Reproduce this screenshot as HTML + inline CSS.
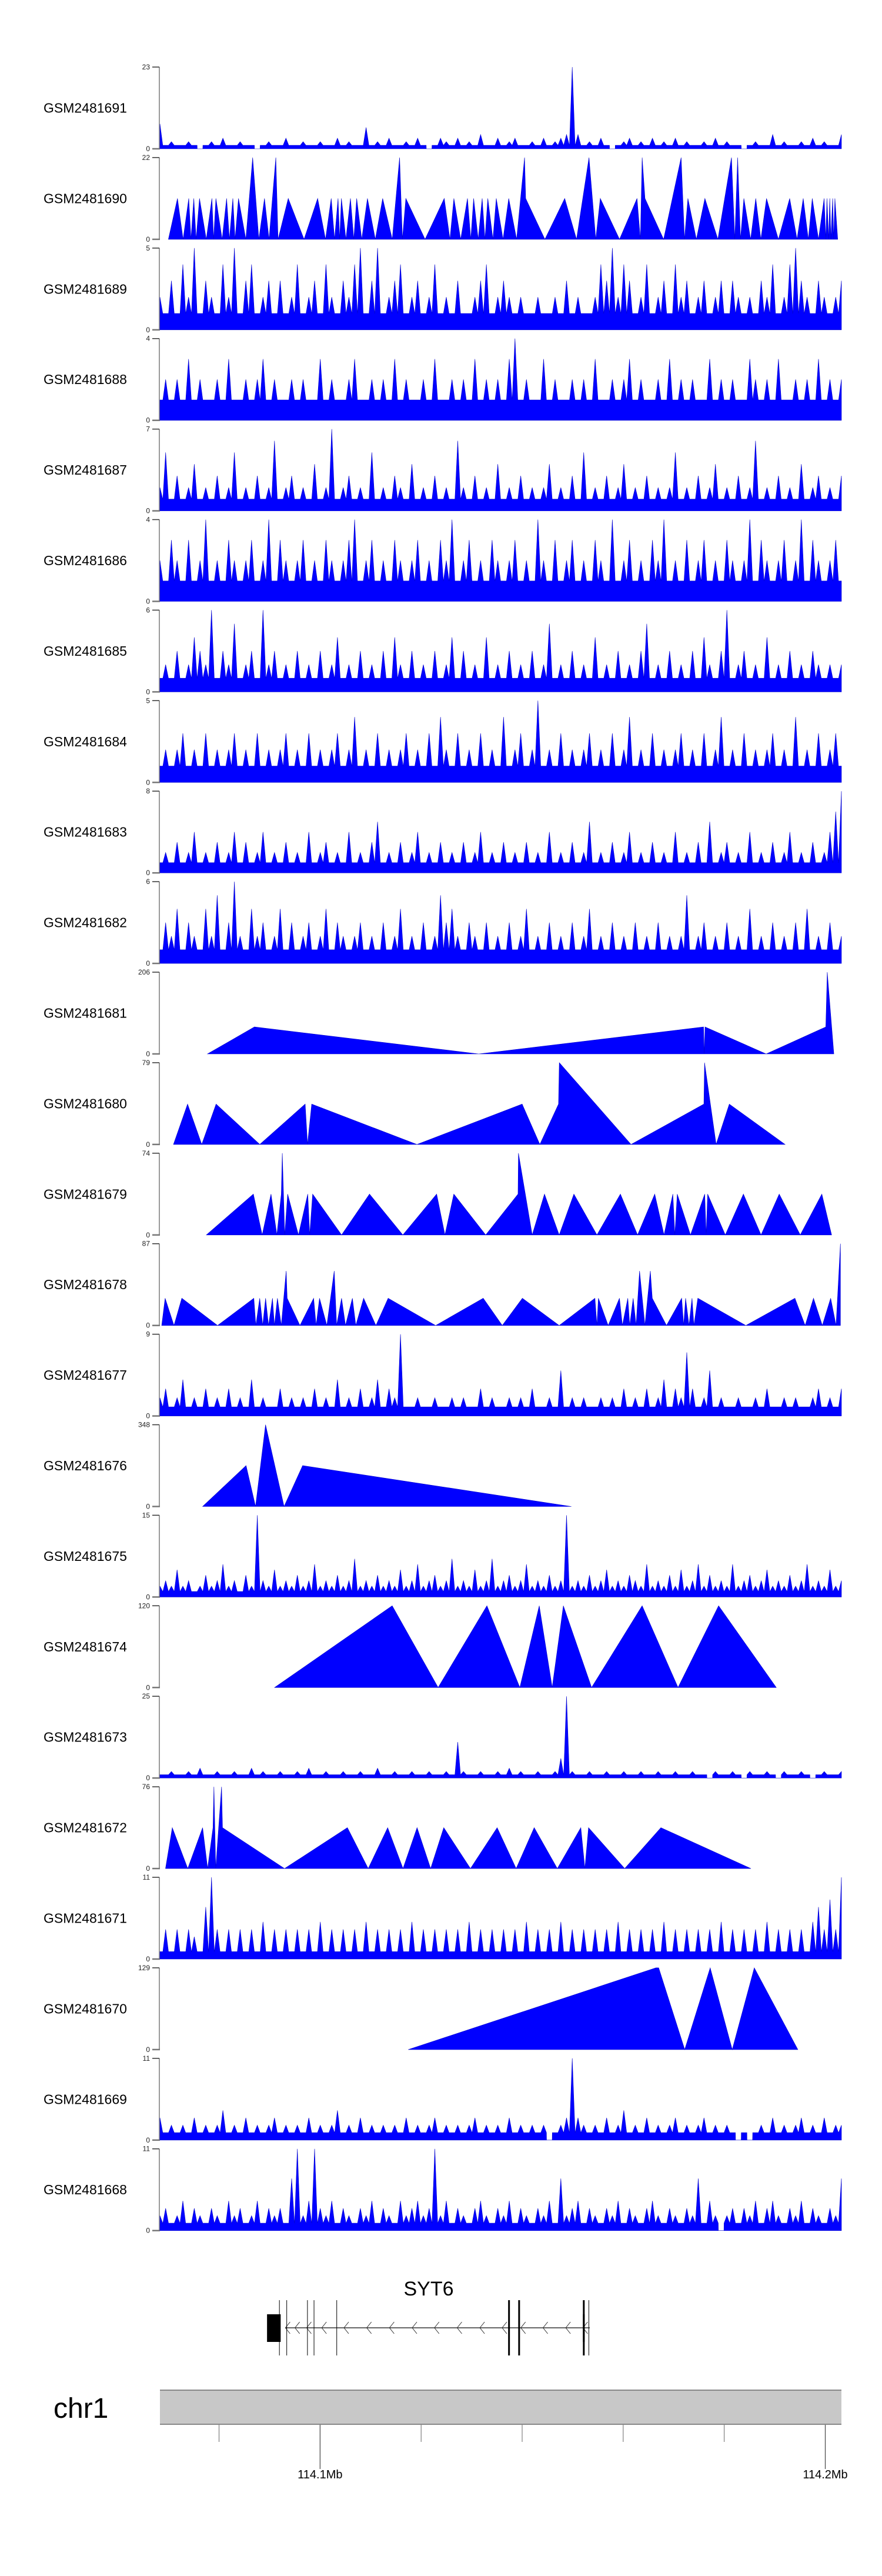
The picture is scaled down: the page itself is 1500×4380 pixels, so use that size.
<!DOCTYPE html>
<html><head><meta charset="utf-8">
<style>
html,body{margin:0;padding:0;background:#fff;}
svg{display:block;}
text{font-family:"Liberation Sans",sans-serif;}
</style></head>
<body>
<svg id="chart" width="1500" height="4380" viewBox="0 0 1500 4380" xmlns="http://www.w3.org/2000/svg">
<g id="tracks"></g>
<g id="gene">
  <text x="729" y="3903" font-size="34" text-anchor="middle" fill="#000">SYT6</text>
</g>
<g id="ideo">
  <text x="91" y="4111" font-size="48" fill="#000">chr1</text>
  <rect x="272" y="4064" width="1159" height="58" fill="#c8c8c8"/>
  <line x1="272" y1="4064" x2="1431" y2="4064" stroke="#888" stroke-width="2"/>
  <line x1="272" y1="4122" x2="1431" y2="4122" stroke="#888" stroke-width="2"/>
</g>
</svg>
<script>
// ---- genomic window (kb past 114.0 Mb) ----
const domainKb = [68.3, 203.2];
const trackNames = ["GSM2481691","GSM2481690","GSM2481689","GSM2481688","GSM2481687","GSM2481686","GSM2481685","GSM2481684","GSM2481683","GSM2481682","GSM2481681","GSM2481680","GSM2481679","GSM2481678","GSM2481677","GSM2481676","GSM2481675","GSM2481674","GSM2481673","GSM2481672","GSM2481671","GSM2481670","GSM2481669","GSM2481668"];
const trackMax = [23,22,5,4,7,4,6,5,8,6,206,79,74,87,9,348,15,120,25,76,11,129,11,11];

// dense (binned) tracks: evenly spaced bins across window
const v1691=[7,1,2,1,1,2,1,0,1,2,1,3,1,1,2,1,1,0,1,2,1,1,3,1,1,2,1,1,2,1,1,3,1,2,1,1,6,1,2,1,3,1,1,2,1,3,1,0,1,3,2,1,3,1,2,1,4,1,1,3,1,2,3,1,1,2,1,3,1,2,3,4,23,4,1,2,1,3,1,0,1,2,3,1,2,1,3,1,2,1,3,1,2,1,1,2,1,3,1,2,1,1,0,1,2,1,1,4,1,2,1,1,2,1,3,1,2,1,1,4];
const v1689=[2,1,3,1,4,2,5,1,3,2,1,4,2,5,1,3,4,1,2,3,1,3,1,2,4,1,2,3,1,4,2,1,3,2,4,5,1,3,5,1,2,3,4,1,2,3,1,2,4,1,2,1,3,1,1,2,3,4,1,2,3,2,1,2,1,1,2,1,1,2,1,3,1,2,1,1,2,4,3,5,2,4,3,1,2,4,1,2,3,1,4,2,3,1,2,3,1,2,3,1,3,2,1,2,1,3,2,4,1,2,4,5,3,2,1,3,2,1,2,3];
const v1688=[1,2,1,2,1,3,1,2,1,1,2,1,3,1,1,2,1,2,3,1,2,1,1,2,1,2,1,1,3,1,2,1,1,2,3,1,1,2,1,2,1,3,1,2,1,1,2,1,3,1,1,2,1,2,1,3,1,2,1,2,1,3,4,1,2,1,1,3,1,2,1,1,2,1,2,1,3,1,1,2,1,2,3,1,2,1,1,2,1,3,1,2,1,2,1,1,3,1,2,1,2,1,1,3,2,1,2,1,3,1,1,2,1,2,1,3,1,2,1,2];
const v1687=[2,5,1,3,1,2,4,1,2,1,3,1,2,5,1,2,1,3,1,2,6,1,2,3,1,2,1,4,1,2,7,1,2,3,1,2,1,5,1,2,1,3,2,1,4,1,2,1,3,1,2,1,6,2,1,3,1,2,1,4,1,2,1,3,1,2,1,2,4,1,2,1,3,1,5,1,2,1,3,1,2,4,1,2,1,3,1,2,1,2,5,1,2,1,3,1,2,4,1,2,1,3,1,2,6,1,2,1,3,1,2,1,4,1,2,3,1,2,1,3];
const v1686=[2,1,3,2,1,3,1,2,4,1,2,1,3,2,1,2,3,1,2,4,1,3,2,1,2,3,1,2,1,3,2,1,2,3,4,1,2,3,1,2,1,3,2,1,2,3,1,2,1,3,2,4,1,2,3,1,2,1,3,2,1,2,3,1,2,1,4,2,1,3,1,2,3,1,2,1,3,2,1,4,1,2,3,1,2,1,3,2,4,1,2,1,3,1,2,3,1,2,1,3,2,1,2,4,1,3,2,1,2,3,1,2,4,1,3,2,1,2,3,1];
const v1685=[1,2,1,3,1,2,4,3,2,6,1,3,2,5,1,2,3,1,6,2,3,1,2,1,3,1,2,1,3,1,2,4,1,2,1,3,1,2,1,3,1,4,2,1,3,1,2,1,3,1,2,4,1,3,1,2,1,4,1,2,1,3,1,2,1,3,1,2,5,1,2,1,3,1,2,1,4,1,2,1,3,1,2,1,3,5,1,2,1,3,1,2,1,3,1,4,2,1,3,6,1,2,3,1,2,1,4,1,2,1,3,1,2,1,3,2,1,2,1,2];
const v1684=[1,2,1,2,3,1,2,1,3,1,2,1,2,3,1,2,1,3,1,2,1,2,3,1,2,1,3,1,2,1,2,3,1,2,4,1,2,1,3,1,2,1,2,3,1,2,1,3,1,4,2,1,3,1,2,1,3,1,2,1,4,1,2,3,1,2,5,1,2,1,3,1,2,1,2,3,1,2,1,3,1,2,4,1,2,1,3,1,2,1,2,3,1,2,1,3,1,2,4,1,2,1,3,1,2,1,2,3,1,2,1,4,1,2,1,3,1,2,3,1];
const v1683=[1,2,1,3,1,2,4,1,2,1,3,1,2,4,1,3,1,2,4,1,2,1,3,1,2,1,4,1,2,3,1,2,1,4,1,2,1,3,5,1,2,1,3,1,2,4,1,2,1,3,1,2,1,3,1,2,4,1,2,1,3,1,2,1,3,1,2,1,4,1,2,1,3,1,2,5,1,2,1,3,1,2,4,1,2,1,3,1,2,1,4,1,2,1,3,1,5,1,2,3,1,2,1,4,1,2,1,3,1,2,4,1,2,1,3,1,2,4,6,8];
const v1682=[1,3,2,4,1,3,2,1,4,2,5,1,3,6,2,1,4,2,3,1,2,4,1,3,1,2,3,1,2,4,1,3,2,1,2,3,1,2,1,3,1,2,4,1,2,1,3,1,2,5,3,4,2,1,3,2,1,3,1,2,1,3,1,2,4,1,2,1,3,1,2,1,3,1,2,4,1,2,1,3,1,2,1,3,1,2,1,3,1,2,1,2,5,1,2,3,1,2,1,3,1,2,1,4,1,2,1,3,1,2,1,3,1,4,1,2,1,3,1,2];
const v1677=[2,3,1,2,4,1,2,1,3,1,2,1,3,1,2,1,4,1,2,1,1,3,1,2,1,2,1,3,1,2,1,4,1,2,1,3,1,2,4,1,3,2,9,1,1,2,1,1,2,1,1,2,1,2,1,1,3,1,2,1,1,2,1,2,1,3,1,1,2,1,5,1,2,1,2,1,1,2,1,2,1,3,1,2,1,3,1,2,4,1,3,2,7,3,1,2,5,1,2,1,1,2,1,1,2,1,3,1,1,2,1,2,1,1,2,3,1,2,1,3];
const v1675=[2,3,2,5,2,3,1,2,4,2,3,6,2,3,1,4,2,15,3,2,5,2,3,2,4,2,3,6,2,3,2,4,2,3,7,2,3,2,4,2,3,2,5,2,3,6,2,3,4,2,3,7,2,3,2,5,2,3,7,2,3,4,2,3,6,2,3,2,4,2,3,15,2,3,2,4,2,3,5,2,3,2,4,3,2,6,2,3,2,4,2,5,2,3,6,2,4,2,3,2,6,2,3,4,2,3,5,2,3,2,4,2,3,6,2,3,2,5,2,3];
const v1673=[1,1,2,1,1,2,1,3,1,1,2,1,1,2,1,1,3,1,2,1,1,2,1,1,2,1,3,1,1,2,1,1,2,1,1,2,1,1,3,1,1,2,1,1,2,1,1,2,1,1,2,1,11,2,1,1,2,1,1,2,1,3,1,2,1,1,2,1,1,2,6,25,2,1,1,2,1,1,2,1,1,2,1,1,2,1,1,2,1,1,2,1,1,2,1,1,0,2,1,1,2,1,0,2,1,1,2,1,0,2,1,1,2,1,0,1,2,1,1,2];
const v1671=[1,4,1,4,1,4,3,1,7,11,4,1,4,1,4,1,4,1,5,1,4,1,4,1,4,1,4,1,5,1,4,1,4,1,4,1,5,1,4,1,4,1,4,1,5,1,4,1,4,1,4,1,4,1,5,1,4,1,4,1,4,1,4,1,5,1,4,1,4,1,5,1,4,1,4,1,4,1,4,1,5,1,4,1,4,1,4,1,5,1,4,1,4,1,4,1,4,1,5,1,4,1,4,1,4,1,5,1,4,1,4,1,4,1,5,7,4,8,4,11];
const v1669=[3,1,2,1,2,1,3,1,2,1,2,4,1,2,1,3,1,2,1,2,3,1,2,1,2,1,3,1,2,1,2,4,1,2,1,3,1,2,1,2,1,2,1,3,1,2,1,2,3,1,2,1,2,1,2,3,1,2,1,2,1,3,1,2,1,2,1,2,0,1,2,3,11,3,2,1,2,1,3,1,2,4,1,2,1,3,1,2,1,2,3,1,2,1,2,3,1,2,1,2,1,0,1,0,1,2,1,3,1,2,1,2,3,1,2,1,3,1,2,2];
const v1668=[2,3,1,2,4,1,3,2,1,3,2,1,4,2,3,1,2,4,1,3,2,3,1,7,11,2,4,11,3,2,4,1,3,2,1,3,2,4,1,3,2,1,4,2,3,4,2,3,11,2,4,1,3,2,1,3,4,2,1,3,2,4,1,3,2,1,3,2,4,1,7,2,3,4,1,3,2,1,3,2,4,1,3,2,1,3,4,2,1,3,2,1,3,2,7,1,4,2,0,2,3,1,3,2,4,1,3,4,2,1,3,2,4,1,3,2,1,3,2,7];

// sparse tracks: positions (kb) and values
const p1690=[69.98,71.77,72.89,74.0,74.45,75.01,75.46,76.13,77.47,78.59,78.93,79.38,80.61,81.5,82.06,82.73,83.18,83.85,85.31,86.65,87.88,89.0,89.9,90.57,91.24,91.68,93.7,96.83,99.52,101.08,102.2,102.87,103.55,103.88,104.22,105.11,106.01,106.68,107.24,108.25,109.37,110.93,112.39,114.29,115.74,116.3,116.97,120.78,124.58,125.7,126.49,127.83,129.17,129.84,130.4,131.3,132.08,132.64,133.2,134.21,134.88,136.22,137.34,138.91,140.47,140.7,144.5,148.42,150.77,153.23,154.57,155.47,159.27,162.74,163.41,163.75,164.31,168.0,171.47,172.14,172.81,174.49,176.17,178.74,181.43,182.1,182.66,183.22,183.89,185.23,186.24,187.25,188.37,190.72,192.96,194.41,195.64,196.65,197.43,198.66,199.78,200.12,200.34,200.68,200.9,201.12,201.46,201.68,201.91,202.47];
const y1690=[0,11,0,11,0,11,0,11,0,11,0,11,0,11,0,11,0,11,0,22,0,11,0,11,22,0,11,0,11,0,11,0,11,0,11,0,11,0,11,0,11,0,11,0,22,0,11,0,11,0,11,0,11,0,11,0,11,0,11,0,11,0,11,0,22,11,0,11,0,22,0,11,0,11,0,22,11,0,22,0,11,0,11,0,22,0,22,0,11,0,11,0,11,0,11,0,11,0,11,0,11,0,11,0,11,0,11,0,11,0];
const p1681=[77.7,87.0,131.4,175.9,176.05,176.2,188.3,200.1,200.4,201.7];
const y1681=[0,68,0,68,0,68,0,68,206,0];
const p1680=[70.98,73.77,76.57,79.42,88.06,97.05,97.52,98.34,119.17,140.0,143.5,147.2,147.35,161.55,175.98,176.1,178.4,181.0,192.05];
const y1680=[0,39,0,39,0,39,0,39,0,39,0,39,79,0,39,79,0,39,0];
const p1679=[77.48,86.79,88.54,90.29,91.45,92.32,92.52,93.0,93.58,95.72,97.56,97.95,98.53,104.25,109.78,116.38,123.07,124.72,126.47,132.78,139.18,139.27,141.99,144.42,147.33,150.24,154.8,159.45,162.85,166.24,168.08,169.83,170.22,170.7,173.32,176.14,176.43,176.72,180.21,183.8,187.29,190.88,195.05,199.32,201.26];
const y1679=[0,37,0,37,0,37,74,0,37,0,37,0,37,0,37,0,37,0,37,0,37,74,0,37,0,37,0,37,0,37,0,37,0,37,0,37,0,37,0,37,0,37,0,37,0];
const p1678=[68.65,69.33,71.08,72.63,79.71,86.89,87.28,88.05,88.64,89.22,89.8,90.58,90.96,91.55,92.32,93.29,93.49,96.01,98.72,99.21,99.89,101.34,102.8,103.28,104.25,105.03,106.39,107.07,108.62,111.05,113.47,122.88,132.29,136.07,140.05,147.33,154.41,154.8,155.09,157.03,159.26,159.84,160.91,161.3,161.97,162.56,163.24,164.3,165.37,165.76,168.57,171.58,171.97,172.36,173.03,173.62,174.0,174.78,184.29,193.99,196.02,197.67,199.42,201.07,202.14,203.0];
const y1678=[0,29,0,29,0,29,0,29,0,29,0,29,0,29,0,58,29,0,29,0,29,0,58,0,29,0,29,0,29,0,29,0,29,0,29,0,29,0,29,0,29,0,29,0,29,0,58,0,58,29,0,29,0,29,0,29,0,29,0,29,0,29,0,29,0,87];
const p1676=[76.75,85.35,87.23,89.2,92.87,96.55,149.74];
const y1676=[0,174,0,348,0,174,0];
const p1674=[91.0,114.28,123.36,133.03,139.55,143.39,145.95,148.16,153.75,163.76,170.86,178.89,190.3];
const y1674=[0,120,0,120,0,120,0,120,0,120,0,120,0];
const p1672=[69.41,70.75,73.8,76.75,77.74,78.81,78.99,79.35,80.5,80.69,92.96,105.41,109.53,113.38,116.42,119.2,121.89,124.48,129.77,135.05,138.81,142.39,146.96,151.62,152.42,153.14,160.3,167.47,185.29];
const y1672=[0,38,0,38,0,38,76,0,76,38,0,38,0,38,0,38,0,38,0,38,0,38,0,38,0,38,0,38,0];
const p1670=[117.45,166.47,167.03,172.18,177.22,181.58,185.95,194.57];
const y1670=[0,129,129,0,129,0,129,0];

// gene model (kb)
const exonPos=[91.95,93.4,97.5,98.8,103.3,137.4,139.4,152.2,153.2];
const exonWidth=[1,1,1,1,1,3,3,3,1];
const utrBox=[89.5,92.2];
const geneSpan=[93.1,153.4];
const chevronPos=[93.6,95.5,97.8,100.8,105.2,109.7,114.2,118.7,123.1,127.6,132.1,136.5,140.2,144.6,149.1,152.5];
// axis ticks (kb)
const minorTicks=[80,120,140,160,180];
const majorTicks=[100,200];
const majorLabels=["114.1Mb","114.2Mb"];

const NS="http://www.w3.org/2000/svg";
const X0=272, X1=1431, TOP0=114, PITCH=153.9, TH=139;
const SPIKE_HALF=0.5, FLOOR_COUNT=1;
function xs(kb){return X0+(kb-domainKb[0])/(domainKb[1]-domainKb[0])*(X1-X0);}
function mk(tag,attrs,parent){const e=document.createElementNS(NS,tag);for(const k in attrs)e.setAttribute(k,attrs[k]);parent.appendChild(e);return e;}

const dense={0:v1691,2:v1689,3:v1688,4:v1687,5:v1686,6:v1685,7:v1684,8:v1683,9:v1682,14:v1677,16:v1675,18:v1673,20:v1671,22:v1669,23:v1668};
const sparse={1:[p1690,y1690],10:[p1681,y1681],11:[p1680,y1680],12:[p1679,y1679],13:[p1678,y1678],15:[p1676,y1676],17:[p1674,y1674],19:[p1672,y1672],21:[p1670,y1670]};

const tg=document.getElementById('tracks');
trackNames.forEach((name,i)=>{
  const top=TOP0+PITCH*i, zero=top+TH, mx=trackMax[i];
  const ys=v=>zero-(v/mx)*TH;
  const g=mk('g',{},tg);
  
  
  const lab=mk('text',{x:74,y:top+TH/2+8,'font-size':23,fill:'#000'},g);
  lab.textContent=name;
  
  
  const ax=mk('line',{x1:271,y1:top,x2:271,y2:zero,stroke:'#999','stroke-width':2},g);
  
  
  const t1=mk('line',{x1:259,y1:top,x2:271,y2:top,stroke:'#333','stroke-width':1.5},g);
  
  
  const t0=mk('line',{x1:259,y1:zero,x2:272,y2:zero,stroke:'#777','stroke-width':2.5},g);
  
  
  const lm=mk('text',{x:255,y:top+4,'font-size':12,'text-anchor':'end',fill:'#222'},g);
  lm.textContent=String(mx);
  
  
  const lz=mk('text',{x:255,y:zero+4,'font-size':12,'text-anchor':'end',fill:'#222'},g);
  lz.textContent='0';
  
  
  let pts=[];
  if(dense[i]){
    const arr=dense[i], n=arr.length;
    const step=(domainKb[1]-domainKb[0])/(n-1);
    pts.push([xs(domainKb[0]),zero]);
    arr.forEach((v,k)=>{
      const c=domainKb[0]+k*step;
      const fl=Math.min(v,FLOOR_COUNT);
      if(k>0) pts.push([xs(c-step*SPIKE_HALF*0.98),ys(fl)]);
      pts.push([xs(c),ys(v)]);
      if(k<n-1) pts.push([xs(c+step*SPIKE_HALF*0.98),ys(fl)]);
    });
    pts.push([xs(domainKb[1]),zero]);
  } else {
    const [p,y]=sparse[i];
    pts.push([xs(p[0]),zero]);
    p.forEach((kb,k)=>pts.push([xs(kb),ys(y[k])]));
    pts.push([xs(p[p.length-1]),zero]);
  }
  const poly=mk('polygon',{points:pts.map(q=>q[0].toFixed(1)+','+q[1].toFixed(1)).join(' '),fill:'#0000ff',stroke:'#0000cc','stroke-width':0.6},g);
  
  
});

// gene model
const gg=document.getElementById('gene');
const il=mk('line',{x1:xs(geneSpan[0]),y1:3958,x2:xs(geneSpan[1]),y2:3958,stroke:'#333','stroke-width':1.5},gg);


chevronPos.forEach(kb=>{
  const x=xs(kb);
  const c=mk('polyline',{points:`${x+4},3948 ${x-4},3958 ${x+4},3968`,fill:'none',stroke:'#333','stroke-width':1},gg);
  
  
});
const ub=mk('rect',{x:xs(utrBox[0]),y:3935,width:xs(utrBox[1])-xs(utrBox[0]),height:47,fill:'#000'},gg);


exonPos.forEach((kb,k)=>{
  const x=xs(kb);
  const e=mk('line',{x1:x,y1:3911,x2:x,y2:4005,stroke:'#000','stroke-width':exonWidth[k]},gg);
  
  
});
const eb=mk('rect',{x:xs(exonPos[7])-1.5,y:3935,width:3,height:47,fill:'#000'},gg);



// chromosome axis ticks
const ig=document.getElementById('ideo');
minorTicks.forEach(kb=>{
  const t=mk('line',{x1:xs(kb),y1:4123,x2:xs(kb),y2:4152,stroke:'#666','stroke-width':1},ig);
  
  
});
majorTicks.forEach((kb,k)=>{
  const t=mk('line',{x1:xs(kb),y1:4123,x2:xs(kb),y2:4198,stroke:'#444','stroke-width':1.2},ig);
  
  
  const l=mk('text',{x:xs(kb),y:4214,'font-size':20,'text-anchor':'middle',fill:'#000'},ig);
  l.textContent=majorLabels[k];
  
  
});
</script>
</body></html>
